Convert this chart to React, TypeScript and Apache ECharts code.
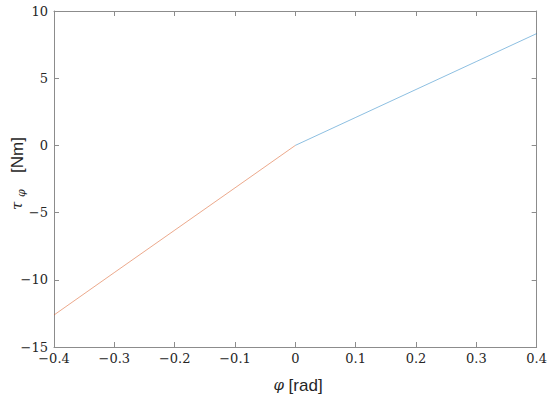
import React, { useEffect, useRef } from "react";
import * as echarts from "echarts";

const xTicks = [-0.4, -0.3, -0.2, -0.1, 0, 0.1, 0.2, 0.3, 0.4];
const yTicks = [-15, -10, -5, 0, 5, 10];
const negPhi = [-0.4, -0.3, -0.2, -0.1, 0];
const negTau = [-12.62, -9.46, -6.31, -3.16, 0];
const posPhi = [0, 0.1, 0.2, 0.3, 0.4];
const posTau = [0, 2.08, 4.16, 6.24, 8.32];

const fmt = (v: number, d: number) => {
  if (Math.abs(v) < 1e-9) return "0";
  const s = Math.abs(v).toFixed(d);
  return v < 0 ? "\u2212" + s : s;
};

export default function App() {
  const ref = useRef<HTMLDivElement>(null);
  useEffect(() => {
    document.body.style.margin = "0";
    if (!ref.current) return;
    const chart = echarts.init(ref.current, null, { renderer: "svg" });
    const axisColor = "#8c8c8c";
    const labelStyle = {
      color: "#262626",
      fontFamily: "DejaVu Serif",
      fontSize: 13,
    };
    const baseAxis = {
      axisLine: { show: true, onZero: false, lineStyle: { color: axisColor, width: 1 } },
      axisTick: { show: true, inside: true, length: 5, lineStyle: { color: axisColor } },
      splitLine: { show: false },
    };
    chart.setOption({
      animation: false,
      backgroundColor: "#ffffff",
      grid: { left: 54, right: 13, top: 11, bottom: 50 },
      xAxis: [
        {
          ...baseAxis,
          type: "value",
          min: xTicks[0],
          max: xTicks[xTicks.length - 1],
          interval: 0.1,
          position: "bottom",
          axisLabel: { ...labelStyle, margin: 5, formatter: (v: number) => fmt(v, 1) },
        },
        {
          ...baseAxis,
          type: "value",
          min: xTicks[0],
          max: xTicks[xTicks.length - 1],
          interval: 0.1,
          position: "top",
          axisLabel: { show: false },
        },
      ],
      yAxis: [
        {
          ...baseAxis,
          type: "value",
          min: yTicks[0],
          max: yTicks[yTicks.length - 1],
          interval: 5,
          position: "left",
          axisLabel: { ...labelStyle, margin: 6, formatter: (v: number) => fmt(v, 0) },
        },
        {
          ...baseAxis,
          type: "value",
          min: yTicks[0],
          max: yTicks[yTicks.length - 1],
          interval: 5,
          position: "right",
          axisLabel: { show: false },
        },
      ],
      series: [
        {
          type: "line",
          data: negPhi.map((x, i) => [x, negTau[i]]),
          showSymbol: false,
          lineStyle: { color: "#D95319", width: 1, opacity: 0.5 },
        },
        {
          type: "line",
          data: posPhi.map((x, i) => [x, posTau[i]]),
          showSymbol: false,
          lineStyle: { color: "#0072BD", width: 1, opacity: 0.45 },
        },
      ],
      graphic: [
        {
          type: "text",
          x: 298,
          y: 385,
          style: {
            text: "{p|\u03c6} [rad]",
            align: "center",
            verticalAlign: "middle",
            fontFamily: "Liberation Sans",
            fontSize: 17,
            fill: "#262626",
            rich: {
              p: { fontFamily: "DejaVu Serif", fontStyle: "italic", fontSize: 15, color: "#262626" },
            },
          },
        },
        {
          type: "group",
          x: 17,
          y: 172,
          rotation: Math.PI / 2,
          children: [
            {
              type: "text",
              x: -38,
              y: 0,
              style: {
                text: "\u03c4",
                align: "left",
                verticalAlign: "middle",
                fontFamily: "DejaVu Serif",
                fontStyle: "italic",
                fontSize: 15,
                fill: "#262626",
              },
            },
            {
              type: "text",
              x: -25,
              y: 4,
              style: {
                text: "\u03c6",
                align: "left",
                verticalAlign: "middle",
                fontFamily: "DejaVu Serif",
                fontStyle: "italic",
                fontSize: 11,
                fill: "#262626",
              },
            },
            {
              type: "text",
              x: -1,
              y: 0,
              style: {
                text: "[Nm]",
                align: "left",
                verticalAlign: "middle",
                fontFamily: "Liberation Sans",
                fontSize: 17,
                fill: "#262626",
              },
            },
          ],
        },
      ],
    });
    return () => chart.dispose();
  }, []);
  return <div ref={ref} style={{ width: 550, height: 397 }} />;
}
